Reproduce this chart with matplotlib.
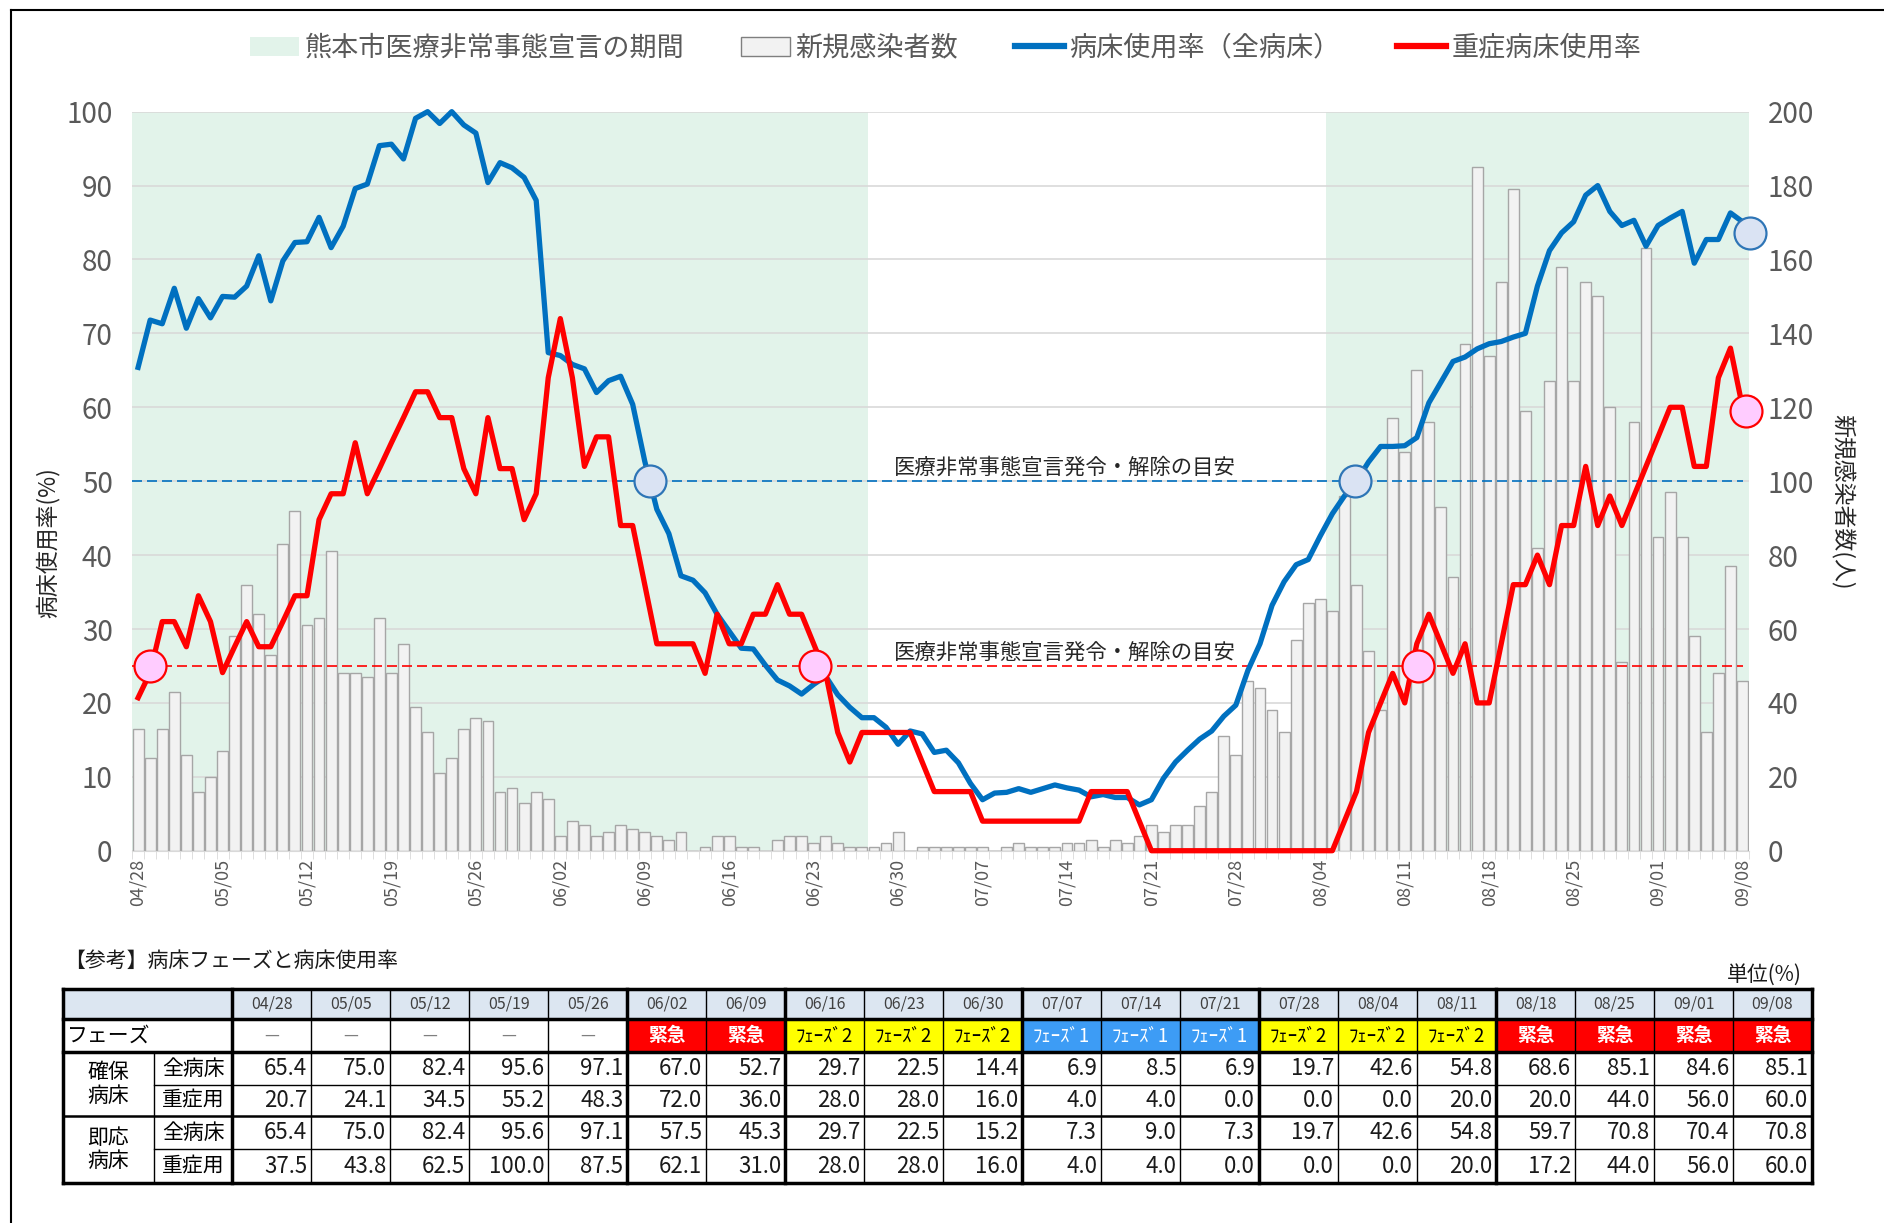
import numpy as np
import pandas as pd
import matplotlib
matplotlib.use('Agg')
import matplotlib.pyplot as plt
from matplotlib.patches import Patch, Rectangle
from matplotlib.lines import Line2D

plt.rcParams['font.family'] = ['Noto Sans CJK JP', 'DejaVu Sans']

# daily categories 04/28 - 09/08
dates = list(pd.date_range('2021-04-28', '2021-09-08').strftime('%m/%d'))

# 病床使用率（全病床） %
bed_all = [65.4, 71.8, 71.3, 76.1, 70.7, 74.7, 72.1,
           75.0, 74.9, 76.4, 80.5, 74.4, 79.8, 82.3,
           82.4, 85.7, 81.6, 84.5, 89.6, 90.2, 95.4,
           95.6, 93.6, 99.1, 100.0, 98.4, 100.0, 98.2,
           97.1, 90.4, 93.1, 92.4, 91.1, 88.0, 67.4,
           67.0, 65.8, 65.2, 62.0, 63.6, 64.2, 60.4,
           52.7, 46.2, 42.9, 37.2, 36.6, 34.9, 32.0,
           29.7, 27.4, 27.3, 25.1, 23.1, 22.3, 21.2,
           22.5, 23.6, 21.1, 19.4, 18.0, 18.0, 16.7,
           14.4, 16.2, 15.8, 13.3, 13.6, 11.9, 9.1,
           6.9, 7.8, 7.9, 8.4, 7.9, 8.4, 8.9,
           8.5, 8.2, 7.3, 7.6, 7.2, 7.2, 6.2,
           6.9, 9.8, 12.0, 13.6, 15.1, 16.2, 18.2,
           19.7, 24.4, 28.0, 33.2, 36.4, 38.7, 39.4,
           42.6, 45.6, 48.0, 50.0, 52.6, 54.7, 54.7,
           54.8, 55.9, 60.6, 63.4, 66.2, 66.8, 67.9,
           68.6, 68.9, 69.5, 70.0, 76.4, 81.2, 83.6,
           85.1, 88.7, 90.0, 86.5, 84.6, 85.3, 81.8,
           84.6, 85.6, 86.5, 79.5, 82.7, 82.7, 86.3,
           85.1]

# 重症病床使用率 %
bed_severe = [20.7, 24.1, 31.0, 31.0, 27.6, 34.5, 31.0,
              24.1, 27.6, 31.0, 27.6, 27.6, 31.0, 34.5,
              34.5, 44.8, 48.3, 48.3, 55.2, 48.3, 51.7,
              55.2, 58.6, 62.1, 62.1, 58.6, 58.6, 51.7,
              48.3, 58.6, 51.7, 51.7, 44.8, 48.3, 64.0,
              72.0, 64.0, 52.0, 56.0, 56.0, 44.0, 44.0,
              36.0, 28.0, 28.0, 28.0, 28.0, 24.0, 32.0,
              28.0, 28.0, 32.0, 32.0, 36.0, 32.0, 32.0,
              28.0, 24.0, 16.0, 12.0, 16.0, 16.0, 16.0,
              16.0, 16.0, 12.0, 8.0, 8.0, 8.0, 8.0,
              4.0, 4.0, 4.0, 4.0, 4.0, 4.0, 4.0,
              4.0, 4.0, 8.0, 8.0, 8.0, 8.0, 4.0,
              0.0, 0.0, 0.0, 0.0, 0.0, 0.0, 0.0,
              0.0, 0.0, 0.0, 0.0, 0.0, 0.0, 0.0,
              0.0, 0.0, 4.0, 8.0, 16.0, 20.0, 24.0,
              20.0, 28.0, 32.0, 28.0, 24.0, 28.0, 20.0,
              20.0, 28.0, 36.0, 36.0, 40.0, 36.0, 44.0,
              44.0, 52.0, 44.0, 48.0, 44.0, 48.0, 52.0,
              56.0, 60.0, 60.0, 52.0, 52.0, 64.0, 68.0,
              60.0]

# 新規感染者数 (人)
new_cases = [33, 25, 33, 43, 26, 16, 20,
             27, 58, 72, 64, 53, 83, 92,
             61, 63, 81, 48, 48, 47, 63,
             48, 56, 39, 32, 21, 25, 33,
             36, 35, 16, 17, 13, 16, 14,
             4, 8, 7, 4, 5, 7, 6,
             5, 4, 3, 5, 0, 1, 4,
             4, 1, 1, 0, 3, 4, 4,
             2, 4, 2, 1, 1, 1, 2,
             5, 0, 1, 1, 1, 1, 1,
             1, 0, 1, 2, 1, 1, 1,
             2, 2, 3, 1, 3, 2, 4,
             7, 5, 7, 7, 12, 16, 31,
             26, 46, 44, 38, 32, 57, 67,
             68, 65, 96, 72, 54, 38, 117,
             108, 130, 116, 93, 74, 137, 185,
             134, 154, 179, 119, 82, 127, 158,
             127, 154, 150, 120, 51, 116, 163,
             85, 97, 85, 58, 32, 48, 77,
             46]

# 熊本市医療非常事態宣言の期間
period_start = ['04/28', '08/05']
period_end = ['06/27', '09/08']

guide_all = 50
guide_severe = 25
guide_text = '医療非常事態宣言発令・解除の目安'

# circle markers (day position, value)
blue_mark_x = [42.4, 100.9, 133.6]
blue_mark_y = [50, 50, 83.6]
pink_mark_x = [1.0, 56.1, 106.1, 133.3]
pink_mark_y = [25, 25, 25, 59.5]

# reference table
table_dates = dates[::7]
phases = ['—', '—', '—', '—', '—', '緊急', '緊急', 'ﾌｪｰｽﾞ2', 'ﾌｪｰｽﾞ2', 'ﾌｪｰｽﾞ2',
          'ﾌｪｰｽﾞ1', 'ﾌｪｰｽﾞ1', 'ﾌｪｰｽﾞ1', 'ﾌｪｰｽﾞ2', 'ﾌｪｰｽﾞ2', 'ﾌｪｰｽﾞ2',
          '緊急', '緊急', '緊急', '緊急']
kakuho_all = [65.4, 75.0, 82.4, 95.6, 97.1, 67.0, 52.7, 29.7, 22.5, 14.4,
              6.9, 8.5, 6.9, 19.7, 42.6, 54.8, 68.6, 85.1, 84.6, 85.1]
kakuho_severe = [20.7, 24.1, 34.5, 55.2, 48.3, 72.0, 36.0, 28.0, 28.0, 16.0,
                 4.0, 4.0, 0.0, 0.0, 0.0, 20.0, 20.0, 44.0, 56.0, 60.0]
sokuo_all = [65.4, 75.0, 82.4, 95.6, 97.1, 57.5, 45.3, 29.7, 22.5, 15.2,
             7.3, 9.0, 7.3, 19.7, 42.6, 54.8, 59.7, 70.8, 70.4, 70.8]
sokuo_severe = [37.5, 43.8, 62.5, 100.0, 87.5, 62.1, 31.0, 28.0, 28.0, 16.0,
                4.0, 4.0, 0.0, 0.0, 0.0, 20.0, 17.2, 44.0, 56.0, 60.0]

shade_c = '#e2f3ea'
blue_c = '#0070c0'
red_c = '#ff0000'
gray_txt = '#595959'

fig = plt.figure(figsize=(18.84, 12.23), dpi=100)
ax = fig.add_axes([0.0701, 0.3044, 0.858, 0.6043])
ax2 = ax.twinx()
ax.set_zorder(ax2.get_zorder() + 1)
ax.patch.set_visible(False)

x = np.arange(len(dates))

# background: periods, grid, bars (right axis)
for s, e in zip(period_start, period_end):
    ax2.axvspan(dates.index(s) - 0.5, dates.index(e) + 0.5, color=shade_c, lw=0, zorder=0.2)
ax2.set_axisbelow(True)
ax2.yaxis.grid(True, color='#d9d9d9', lw=1.2)
ax2.bar(x, new_cases, width=0.9, color='#f2f2f2', edgecolor='#a6a6a6', lw=1.0, zorder=2)
ax2.set_ylim(0, 200)
ax2.set_yticks(range(0, 201, 20))
ax2.tick_params(axis='y', length=0, pad=14, labelsize=20, labelcolor=gray_txt)

# guide lines
ax.hlines(guide_all, -0.5, 133, colors=blue_c, lw=1.2, linestyles=(0, (6, 3)))
ax.hlines(guide_severe, -0.5, 133, colors=red_c, lw=1.2, linestyles=(0, (6, 3)))
ax.text(76.8, guide_all + 0.3, guide_text, ha='center', va='bottom', fontsize=15.4, color='#262626')
ax.text(76.8, guide_severe + 0.3, guide_text, ha='center', va='bottom', fontsize=15.4, color='#262626')

ax.plot(x, bed_all, color=blue_c, lw=3.8, clip_on=False, zorder=4, solid_joinstyle='round')
ax.plot(x, bed_severe, color=red_c, lw=3.8, clip_on=False, zorder=5, solid_joinstyle='round')
ax.plot(blue_mark_x, blue_mark_y, 'o', ms=23, mfc='#dae3f3', mec='#2e75b6', mew=1.6,
        clip_on=False, zorder=6)
ax.plot(pink_mark_x, pink_mark_y, 'o', ms=23, mfc='#ffccff', mec=red_c, mew=1.6,
        clip_on=False, zorder=6)

ax.set_xlim(-0.5, 133.5)
ax.set_ylim(0, 100)
ax.set_yticks(range(0, 101, 10))
ax.tick_params(axis='y', length=0, pad=14, labelsize=20, labelcolor=gray_txt)
ax.set_xticks(x[::7])
ax.set_xticklabels(dates[::7], rotation=90)
ax.set_xticks(np.arange(-0.5, 134, 1), minor=True)
ax.tick_params(axis='x', which='major', length=0, pad=6, labelsize=13, labelcolor=gray_txt)
ax.tick_params(axis='x', which='minor', length=6, color='#d9d9d9')
for sp in ['top', 'left', 'right']:
    ax.spines[sp].set_visible(False)
    ax2.spines[sp].set_visible(False)
ax.spines['bottom'].set_color('#d9d9d9')
ax2.spines['bottom'].set_visible(False)

fig.text(0.0255, 0.5564, '病床使用率(%)', rotation=90, ha='center', va='center',
         fontsize=16.5, color='#262626')
fig.text(0.9777, 0.590, '新規感染者数(人)', rotation=270, ha='center', va='center',
         fontsize=16.5, color='#262626')

handles = [Patch(facecolor=shade_c, edgecolor='none'),
           Patch(facecolor='#f2f2f2', edgecolor='#7f7f7f'),
           Line2D([], [], color=blue_c, lw=4.5),
           Line2D([], [], color=red_c, lw=4.5)]
labels = ['熊本市医療非常事態宣言の期間', '新規感染者数', '病床使用率（全病床）', '重症病床使用率']
fig.legend(handles, labels, loc='center', bbox_to_anchor=(0.502, 0.9607), ncol=4,
           frameon=False, fontsize=19.5, handlelength=1.8, handletextpad=0.2,
           columnspacing=2.1, labelcolor=gray_txt)

# ---- table ----
fig.text(0.034, 0.2142, '【参考】病床フェーズと病床使用率', fontsize=15, va='center', color='#1a1a1a')
fig.text(0.9566, 0.2028, '単位(%)', fontsize=15, ha='right', va='center', color='#1a1a1a')

tab = fig.add_axes([0.0332, 0.0327, 0.9286, 0.1586])
ncol = len(table_dates)
c1, c2 = 1.16, 2.15
W = c2 + ncol
rows = [0, 0.926, 1.963, 2.963, 3.926, 4.963, 6.0]
tab.set_xlim(0, W)
tab.set_ylim(rows[-1], 0)
tab.axis('off')

tab.add_patch(Rectangle((0, 0), W, rows[1], fc='#dce6f1', ec='none'))
phase_style = {'緊急': ('#ff0000', 'white', 'bold'),
               'ﾌｪｰｽﾞ2': ('#ffff00', 'black', 'normal'),
               'ﾌｪｰｽﾞ1': ('#3d9cf5', 'white', 'normal')}
value_rows = [kakuho_all, kakuho_severe, sokuo_all, sokuo_severe]
for i, d in enumerate(table_dates):
    cx = c2 + i
    tab.text(cx + 0.5, rows[1] / 2, d, ha='center', va='center', fontsize=11.5, color='#404040')
    p = phases[i]
    ym = (rows[1] + rows[2]) / 2
    if p in phase_style:
        fc, tc, fw = phase_style[p]
        tab.add_patch(Rectangle((cx, rows[1]), 1, rows[2] - rows[1], fc=fc, ec='none'))
        tab.text(cx + 0.5, ym, p, ha='center', va='center', fontsize=13.5, color=tc, fontweight=fw)
    else:
        tab.text(cx + 0.5, ym, p, ha='center', va='center', fontsize=12, color='#7f7f7f')
    for r, vals in enumerate(value_rows):
        yy = (rows[2 + r] + rows[3 + r]) / 2
        tab.text(cx + 0.95, yy, f'{vals[i]:.1f}', ha='right', va='center', fontsize=16, color='#1a1a1a')

tab.text(0.06, (rows[1] + rows[2]) / 2, 'フェーズ', ha='left', va='center', fontsize=15)
tab.text(c1 / 2, (rows[2] + rows[4]) / 2, '確保\n病床', ha='center', va='center', fontsize=15, linespacing=1.1)
tab.text(c1 / 2, (rows[4] + rows[6]) / 2, '即応\n病床', ha='center', va='center', fontsize=15, linespacing=1.1)
for r, lab in enumerate(['全病床', '重症用', '全病床', '重症用']):
    tab.text((c1 + c2) / 2, (rows[2 + r] + rows[3 + r]) / 2, lab, ha='center', va='center', fontsize=15)

thick, thin = 2.5, 1.0
# horizontal rules
for yy, lw in [(rows[0], thick), (rows[1], thick), (rows[2], thick), (rows[4], 1.8), (rows[6], thick)]:
    tab.plot([0, W], [yy, yy], color='black', lw=lw, clip_on=False)
for yy in [rows[3], rows[5]]:
    tab.plot([c1, W], [yy, yy], color='black', lw=thin, clip_on=False)
# vertical rules
tab.plot([0, 0], [0, rows[-1]], color='black', lw=thick, clip_on=False)
tab.plot([W, W], [0, rows[-1]], color='black', lw=thick, clip_on=False)
tab.plot([c2, c2], [0, rows[-1]], color='black', lw=thick, clip_on=False)
tab.plot([c1, c1], [rows[2], rows[-1]], color='black', lw=thin, clip_on=False)
group_breaks = [5, 7, 10, 13, 16]
for i in range(1, ncol):
    lw = thick if i in group_breaks else thin
    tab.plot([c2 + i, c2 + i], [0, rows[-1]], color='black', lw=lw, clip_on=False)

# frame of the original screenshot
fig.add_artist(Line2D([11 / 1884, 11 / 1884], [0, 1 - 10 / 1223], transform=fig.transFigure,
                      color='black', lw=1.5))
fig.add_artist(Line2D([11 / 1884, 1], [1 - 10 / 1223, 1 - 10 / 1223], transform=fig.transFigure,
                      color='black', lw=1.5))

fig.savefig('out.png', dpi=100)
